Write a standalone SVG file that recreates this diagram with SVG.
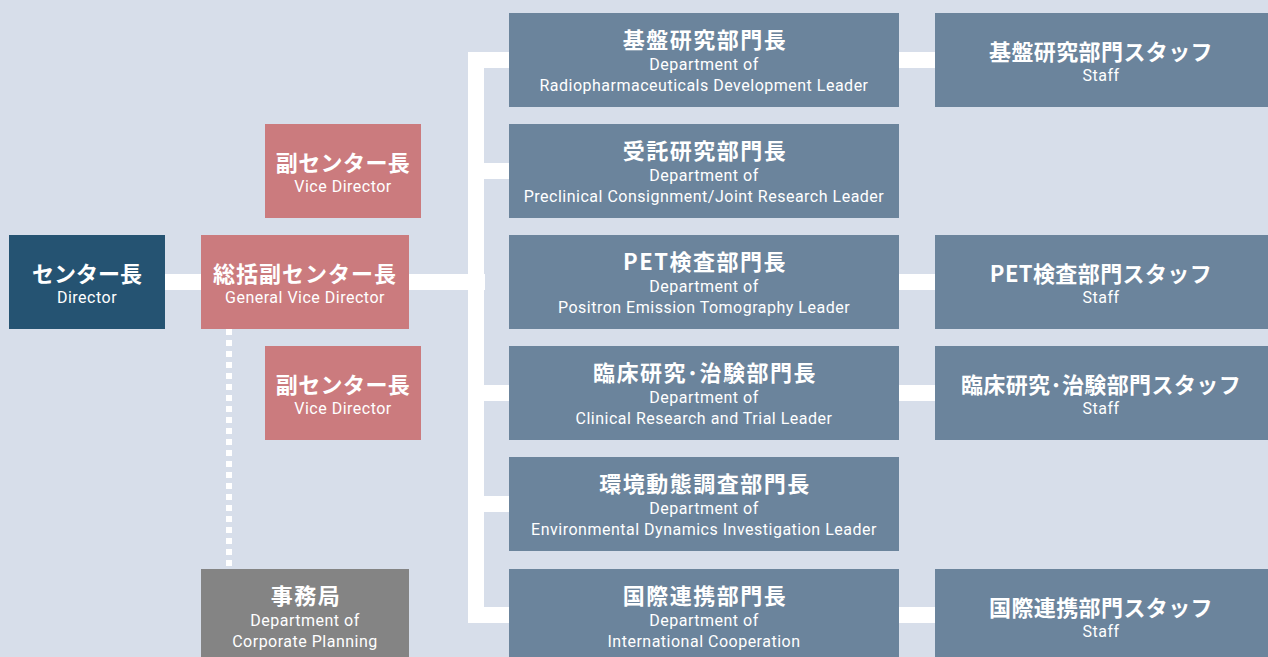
<svg xmlns="http://www.w3.org/2000/svg" width="1268" height="657" viewBox="0 0 1268 657">
<style>
.jp{font-family:"Noto Sans CJK JP","Noto Sans",sans-serif;font-weight:700;font-size:22px;letter-spacing:1.5px;fill:#fff;text-anchor:middle}
.jk{letter-spacing:0.4px}
.en{font-family:"Roboto","Noto Sans",sans-serif;font-size:16px;letter-spacing:0.5px;fill:#fff;text-anchor:middle}
.dir{fill:#255372}.pink{fill:#cb7b7e}.dept{fill:#6b849c}.grey{fill:#848484}
.ln{fill:none;stroke:#fff;stroke-width:16}
</style>
<rect width="1268" height="657" fill="#d7deea"/>
<g id="connectors">
<line class="ln" x1="165" y1="282" x2="485" y2="282"/>
<polyline class="ln" points="509,60 476,60 476,615 509,615"/>
<line class="ln" x1="476" y1="171" x2="509" y2="171"/>
<line class="ln" x1="476" y1="393" x2="509" y2="393"/>
<line class="ln" x1="476" y1="504" x2="509" y2="504"/>
<line class="ln" x1="899" y1="60" x2="935" y2="60"/>
<line class="ln" x1="899" y1="282" x2="935" y2="282"/>
<line class="ln" x1="899" y1="393" x2="935" y2="393"/>
<line class="ln" x1="899" y1="615" x2="935" y2="615"/>
<line x1="229" y1="329" x2="229" y2="567" stroke="#fff" stroke-width="6" stroke-dasharray="6 5"/>
</g>
<g id="director"><rect class="dir" x="9" y="235" width="156" height="94"/><text class="jp" style="letter-spacing:0" x="87" y="282">センター長</text><text class="en" x="87" y="303">Director</text></g>
<g id="general-vice"><rect class="pink" x="201" y="235" width="208" height="94"/><text class="jp" x="305" y="282" style="letter-spacing:1px">総括副センター長</text><text class="en" x="305" y="303">General Vice Director</text></g>
<g id="vice1"><rect class="pink" x="265" y="124" width="156" height="94"/><text class="jp jk" x="343" y="171">副センター長</text><text class="en" x="343" y="192">Vice Director</text></g>
<g id="vice2"><rect class="pink" x="265" y="346" width="156" height="94"/><text class="jp jk" x="343" y="393">副センター長</text><text class="en" x="343" y="414">Vice Director</text></g>
<g id="admin"><rect class="grey" x="201" y="569" width="208" height="90"/><text class="jp" x="306" y="604">事務局</text><text class="en" x="305" y="626">Department of</text><text class="en" x="305" y="647">Corporate Planning</text></g>
<g id="dept1"><rect class="dept" x="509" y="13" width="390" height="94"/><text class="jp" x="705" y="48">基盤研究部門長</text><text class="en" x="704" y="70">Department of</text><text class="en" x="704" y="91">Radiopharmaceuticals Development Leader</text></g>
<g id="dept2"><rect class="dept" x="509" y="124" width="390" height="94"/><text class="jp" x="705" y="159">受託研究部門長</text><text class="en" x="704" y="181">Department of</text><text class="en" x="704" y="202">Preclinical Consignment/Joint Research Leader</text></g>
<g id="dept3"><rect class="dept" x="509" y="235" width="390" height="94"/><text class="jp" x="705" y="270">PET検査部門長</text><text class="en" x="704" y="292">Department of</text><text class="en" x="704" y="313">Positron Emission Tomography Leader</text></g>
<g id="dept4"><rect class="dept" x="509" y="346" width="390" height="94"/><text class="jp" x="705" y="381">臨床研究･治験部門長</text><text class="en" x="704" y="403">Department of</text><text class="en" x="704" y="424">Clinical Research and Trial Leader</text></g>
<g id="dept5"><rect class="dept" x="509" y="457" width="390" height="94"/><text class="jp" x="705" y="492">環境動態調査部門長</text><text class="en" x="704" y="514">Department of</text><text class="en" x="704" y="535">Environmental Dynamics Investigation Leader</text></g>
<g id="dept6"><rect class="dept" x="509" y="569" width="390" height="90"/><text class="jp" x="705" y="604">国際連携部門長</text><text class="en" x="704" y="626">Department of</text><text class="en" x="704" y="647">International Cooperation</text></g>
<g id="staff1"><rect class="dept" x="935" y="13" width="333" height="94"/><text class="jp jk" x="1101" y="60">基盤研究部門スタッフ</text><text class="en" x="1101" y="81">Staff</text></g>
<g id="staff3"><rect class="dept" x="935" y="235" width="333" height="94"/><text class="jp jk" x="1101" y="282">PET検査部門スタッフ</text><text class="en" x="1101" y="303">Staff</text></g>
<g id="staff4"><rect class="dept" x="935" y="346" width="333" height="94"/><text class="jp jk" x="1101" y="393">臨床研究･治験部門スタッフ</text><text class="en" x="1101" y="414">Staff</text></g>
<g id="staff6"><rect class="dept" x="935" y="569" width="333" height="90"/><text class="jp jk" x="1101" y="616">国際連携部門スタッフ</text><text class="en" x="1101" y="637">Staff</text></g>
</svg>
